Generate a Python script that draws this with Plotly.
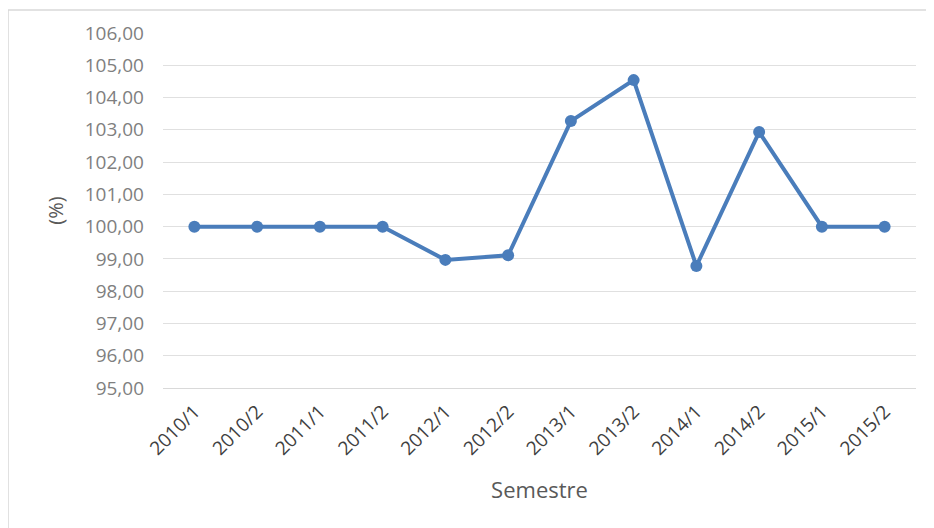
import plotly.graph_objects as go

semestres = ["2010/1", "2010/2", "2011/1", "2011/2", "2012/1", "2012/2",
             "2013/1", "2013/2", "2014/1", "2014/2", "2015/1", "2015/2"]
valores = [100.00, 100.00, 100.00, 100.00, 98.97, 99.11,
           103.27, 104.54, 98.78, 102.93, 100.00, 100.00]
y_ticks = [95, 96, 97, 98, 99, 100, 101, 102, 103, 104, 105, 106]

fig = go.Figure()
fig.add_trace(go.Scatter(
    x=semestres, y=valores, mode="lines+markers",
    line=dict(color="#4a7dbb", width=4),
    marker=dict(color="#4a7dbb", size=12),
    showlegend=False,
))

# page body has an 8px margin; plot area target: x 163..916, y 33..388
fig.update_layout(
    width=926, height=520,
    margin=dict(l=155, r=18, t=25, b=140),
    paper_bgcolor="white", plot_bgcolor="white",
    separators=",.",
    font=dict(family="Open Sans, sans-serif", color="#595959"),
    xaxis=dict(
        type="category", tickangle=-45, range=[-0.5, 11.5],
        tickfont=dict(size=19, color="#404040"),
        showgrid=False, showline=True, linecolor="#d9d9d9", linewidth=1,
        ticks="", ticklabelstandoff=4,
        title=dict(text="Semestre", font=dict(size=22, color="#595959"), standoff=22),
        automargin=False,
    ),
    yaxis=dict(
        range=[95, 106], tickvals=y_ticks, tickformat=".2f",
        tickfont=dict(size=19, color="#7f7f7f"),
        showgrid=True, gridcolor="#e0e0e0", gridwidth=1,
        zeroline=False, showline=False, ticks="",
        ticklabelstandoff=18,
        title=dict(text="(%)", font=dict(size=20, color="#595959"), standoff=15),
        automargin=False,
    ),
    shapes=[dict(type="rect", xref="paper", yref="paper",
                 x0=-0.2058, x1=1.3, y0=-0.7, y1=1.0648,
                 line=dict(color="#d9d9d9", width=1.5), fillcolor="rgba(0,0,0,0)",
                 layer="below")],
)

fig.write_html("out.html")
